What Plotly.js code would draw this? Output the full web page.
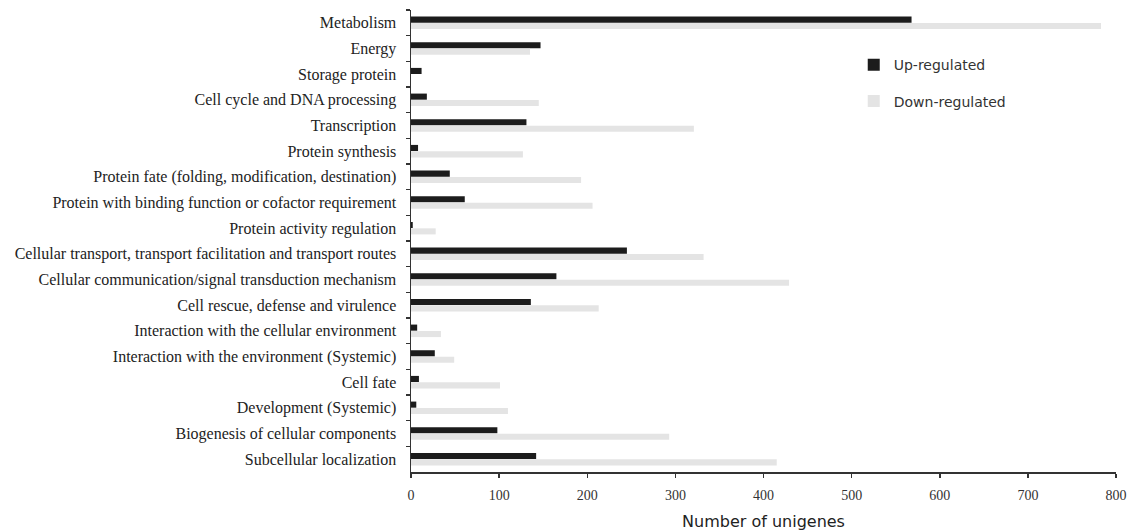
<!DOCTYPE html>
<html>
<head>
<meta charset="utf-8">
<script src="https://cdn.plot.ly/plotly-3.0.1.min.js"></script>
<style>html,body{margin:0;padding:0;background:#fff;}#chart{width:1131px;height:531px;}</style>
</head>
<body>
<div id="chart"></div>
<script>
const categories = [
  "Metabolism",
  "Energy",
  "Storage protein",
  "Cell cycle and DNA processing",
  "Transcription",
  "Protein synthesis",
  "Protein fate (folding, modification, destination)",
  "Protein with binding function or cofactor requirement",
  "Protein activity regulation",
  "Cellular transport, transport facilitation and transport routes",
  "Cellular communication/signal transduction mechanism",
  "Cell rescue, defense and virulence",
  "Interaction with the cellular environment",
  "Interaction with the environment (Systemic)",
  "Cell fate",
  "Development (Systemic)",
  "Biogenesis of cellular components",
  "Subcellular localization"
];
const upRegulated = [568, 147, 12, 18, 131, 8, 44, 61, 2, 245, 165, 136, 7, 27, 9, 6, 98, 142];
const downRegulated = [783, 135, 0, 145, 321, 127, 193, 206, 28, 332, 429, 213, 34, 49, 101, 110, 293, 415];
const seriesNames = ["Up-regulated", "Down-regulated"];
const xTicks = [0, 100, 200, 300, 400, 500, 600, 700, 800];

const traces = [
  {
    type: "bar", orientation: "h", name: seriesNames[0],
    y: categories, x: upRegulated,
    marker: {color: "#1c1c1c"}, legendgroup: "a"
  },
  {
    type: "bar", orientation: "h", name: seriesNames[1],
    y: categories, x: downRegulated,
    marker: {color: "#e4e4e4"}, legendgroup: "b"
  }
];

const layout = {
  width: 1131, height: 531,
  margin: {l: 411, r: 15, t: 10, b: 59, pad: 0},
  paper_bgcolor: "#fff", plot_bgcolor: "#fff",
  barmode: "group", bargap: 0.5, bargroupgap: 0.05,
  showlegend: true,
  legend: {
    x: 0.628, y: 0.915, xanchor: "left", yanchor: "top",
    font: {family: "DejaVu Sans, sans-serif", size: 14, color: "#333"},
    traceorder: "grouped", tracegroupgap: 15, itemwidth: 30,
    bgcolor: "rgba(0,0,0,0)"
  },
  xaxis: {
    range: [0, 800], tickvals: xTicks, ticktext: xTicks.map(String),
    showgrid: false, zeroline: false,
    showline: true, linecolor: "#333", linewidth: 1.5,
    ticks: "outside", ticklen: 4, tickcolor: "#333", tickwidth: 1.5,
    ticklabelstandoff: 6,
    tickfont: {family: "Liberation Serif, Times New Roman, serif", size: 14, color: "#333"},
    title: {text: "Number of unigenes", standoff: 14,
      font: {family: "DejaVu Sans, sans-serif", size: 16, color: "#222"}}
  },
  yaxis: {
    type: "category", autorange: "reversed",
    categoryorder: "array", categoryarray: categories,
    showgrid: false, zeroline: false,
    showline: true, linecolor: "#333", linewidth: 1.5,
    ticks: "outside", ticklen: 4, tickcolor: "#333", tickwidth: 1.5,
    tickson: "boundaries",
    ticklabelstandoff: 10,
    tickfont: {family: "Liberation Serif, Times New Roman, serif", size: 16, color: "#222"}
  }
};

Plotly.newPlot("chart", traces, layout, {displayModeBar: false, staticPlot: true});
</script>
</body>
</html>
